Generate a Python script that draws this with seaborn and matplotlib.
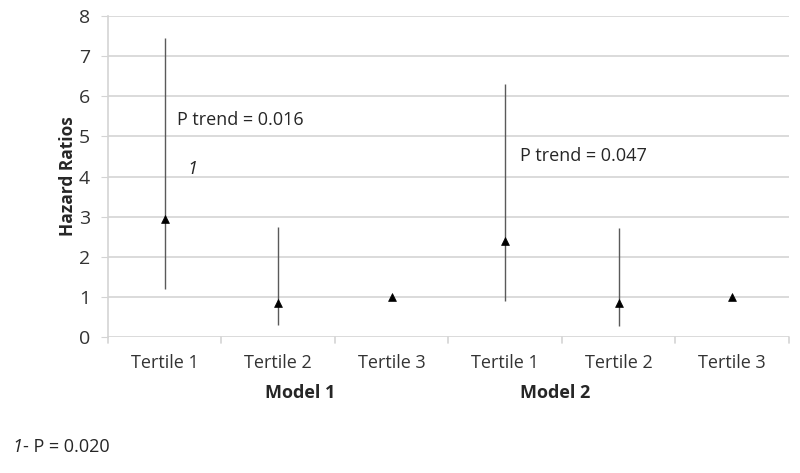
import matplotlib
matplotlib.use("Agg")
import matplotlib.pyplot as plt
import seaborn as sns
import pandas as pd

# Data
categories = ["Tertile 1", "Tertile 2", "Tertile 3", "Tertile 1", "Tertile 2", "Tertile 3"]
models = ["Model 1", "Model 1", "Model 1", "Model 2", "Model 2", "Model 2"]
hazard = [2.95, 0.85, 1.0, 2.4, 0.85, 1.0]
ci_low = [1.2, 0.3, 1.0, 0.9, 0.27, 1.0]
ci_high = [7.45, 2.75, 1.0, 6.3, 2.72, 1.0]
p_trend = ["P trend = 0.016", "P trend = 0.047"]
footnote_p = "- P = 0.020"

df = pd.DataFrame(
    {
        "pos": range(len(categories)),
        "tertile": categories,
        "model": models,
        "hr": hazard,
        "lo": ci_low,
        "hi": ci_high,
    }
)

sns.set_style("white")
plt.rcParams["font.family"] = ["Open Sans", "DejaVu Sans"]

fig = plt.figure(figsize=(8, 4.73), dpi=100)
ax = fig.add_axes([0.135, 0.2875, 0.851, 0.6785])

# gridlines
for y in range(0, 9):
    ax.axhline(y, color="#d4d4d4", lw=1.2, zorder=0)

# confidence intervals
ax.vlines(df["pos"], df["lo"], df["hi"], color="#5a5a5a", lw=1.0, zorder=2)

sns.scatterplot(
    data=df, x="pos", y="hr", marker="^", color="black", s=32,
    edgecolor="black", linewidth=0.5, ax=ax, zorder=3, legend=False,
)

ax.set_xlim(-0.5, 5.5)
ax.set_ylim(0, 8)
ax.set_yticks(range(0, 9))
ax.set_yticklabels([str(v) for v in range(0, 9)], fontsize=14, color="#333333")
ax.set_xticks(df["pos"])
ax.set_xticklabels(df["tertile"], fontsize=13, color="#333333")
ax.tick_params(axis="x", length=0, pad=12)
ax.tick_params(axis="y", length=5, color="#d4d4d4", pad=8, left=True)

for s in ["top", "right", "bottom"]:
    ax.spines[s].set_visible(False)
ax.spines["left"].set_color("#d4d4d4")
ax.spines["left"].set_linewidth(1.2)

# category boundary ticks below the axis
for b in [-0.5, 0.5, 1.5, 2.5, 3.5, 4.5, 5.5]:
    ax.plot([b, b], [0, -0.15], color="#d4d4d4", lw=1.2, clip_on=False)

ax.set_xlabel("")
ax.set_ylabel("Hazard Ratios", fontsize=12.5, fontweight="bold", labelpad=1)

# group labels
ax.text(1.19, -1.4, "Model 1", fontsize=13, fontweight="bold", ha="center", va="center")
ax.text(3.44, -1.4, "Model 2", fontsize=13, fontweight="bold", ha="center", va="center")

# annotations
ax.text(0.11, 5.4, p_trend[0], fontsize=13, va="center", ha="left")
ax.text(0.2, 4.2, "1", fontsize=13, style="italic", va="center", ha="left")
ax.text(3.13, 4.5, p_trend[1], fontsize=13, va="center", ha="left")

fig.text(0.015, 0.055, "1", fontsize=13, style="italic", va="center", ha="left")
fig.text(0.029, 0.055, footnote_p, fontsize=13, va="center", ha="left")

fig.savefig("out.png", dpi=100, facecolor="white")
